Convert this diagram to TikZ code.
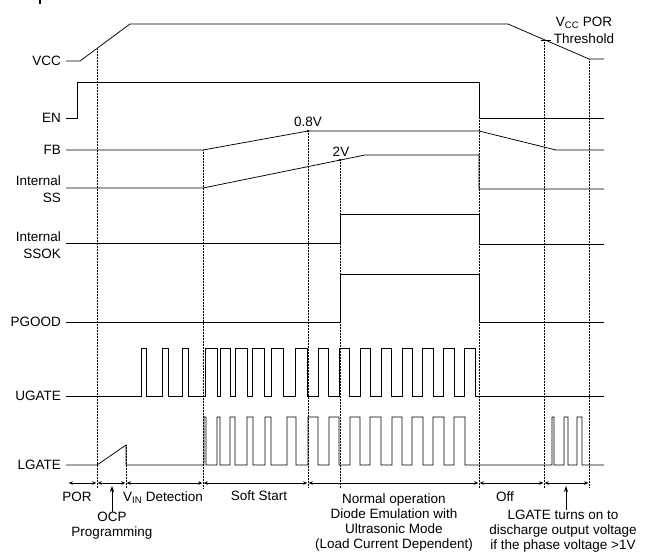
\documentclass[tikz,border=0pt]{standalone}
\usepackage{fontspec}
\setmainfont{Liberation Sans}
\usetikzlibrary{arrows.meta}

\tikzset{
  wave/.style={line width=0.75pt},
  guide/.style={densely dotted, line width=0.5pt},
  span/.style={{Stealth[length=4pt,width=3.5pt]}-{Stealth[length=4pt,width=3.5pt]}, line width=0.5pt, shorten <=0.8pt, shorten >=0.8pt},
  sig/.style={anchor=east, align=right, inner sep=0pt, font=\fontsize{13.5}{17}\selectfont},
  note/.style={align=center, inner sep=0pt, font=\fontsize{13.5}{15}\selectfont},
  mark/.style={}
}

\begin{document}
\begin{tikzpicture}[x=1pt,y=-1pt]
\useasboundingbox (0,0) rectangle (645,557);
\draw [line width = 1.2pt] (40,0) -- (40,4);

\node[sig] (vcc) at (61,61) {VCC};
\node[sig] (en) at (61,118) {EN};
\node[sig] (fb) at (61,150) {FB};
\node[sig] (ss) at (61,189) {Internal\\SS};
\node[sig] (ssok) at (61,245) {Internal\\SSOK};
\node[sig] (pgood) at (61,322) {PGOOD};
\node[sig] (ugate) at (61,396) {UGATE};
\node[sig] (lgate) at (61,465) {LGATE};

\draw [wave] (66,61) -- (80,61) -- (130,24) -- (508,24) -- (589,59) -- (604,59);
\draw [wave] (66,118) -- (77,118) -- (77,82) -- (479,82) -- (479,118) -- (604,118);
\draw [wave] (66,150) -- (203,150) -- (308,131) -- (479,131) -- (556,150) -- (604,150);
\draw [wave] (66,188) -- (203,188) -- (365,155) -- (479,155) -- (479,189) -- (604,189);
\draw [wave] (66,243) -- (340,243) -- (340,214) -- (479,214) -- (479,244) -- (604,244);
\draw [wave] (66,322) -- (340,322) -- (340,274) -- (479,274) -- (479,322) -- (604,322);
\draw [wave] (66,396) foreach \a/\b in {141/146,162/168,182/188,205/217,220/230,235/247,252/264,271/283,295/307,318/328,339/349,360/370,381/391,402/412,422/433,443/454,464/475} { -- (\a,396) -- (\a,348) -- (\b,348) -- (\b,396) } -- (604,396);
\draw [wave] (66,465) -- (97,465) -- (126,445) -- (126,465) foreach \a/\b in {204/206,217/220,230/235,247/253,265/271,287/296,308/318,329/339,350/360,370/381,392/402,412/423,433/444,454/465,552/554,564/568,577/582} { -- (\a,465) -- (\a,417) -- (\b,417) -- (\b,465) } -- (604,465);

\fill (308,131) circle (1.3);
\fill (340,160) circle (1.3);
\draw [wave] (541,40) -- (551,40);
\node[note] (v08) at (308,122) {0.8V};
\node[note] (v2) at (341,152) {2V};
\node[note, font=\fontsize{13.5}{17}\selectfont] (por) at (584,30.5) {V\textsubscript{CC} POR\\Threshold};

\draw [guide] (97,49) -- (97,488);
\draw [guide] (126,445) -- (126,488);
\draw [guide] (203,150) -- (203,488);
\draw [guide] (308,131) -- (308,488);
\draw [guide] (340,160) -- (340,488);
\draw [guide] (479,118) -- (479,488);
\draw [guide] (544,40) -- (544,488);
\draw [guide] (589,59) -- (589,488);

\coordinate (t0) at (68,483);
\coordinate (t1) at (97,483);
\coordinate (t2) at (126,483);
\coordinate (t3) at (203,483);
\coordinate (t4) at (308,483);
\coordinate (t5) at (479,483);
\coordinate (t6) at (544,483);
\coordinate (t7) at (589,483);
\foreach \p/\q in {t0/t1,t1/t2,t2/t3,t3/t4,t4/t5,t5/t6,t6/t7}
  \draw [span] (\p) -- (\q);

\node[note] (porlbl) at (77,497) {POR};
\node[note] (ocp) at (112,526) {OCP\\Programming};
\node[note] (vin) at (163,498) {V\textsubscript{IN} Detection};
\node[note] (soft) at (259,496) {Soft Start};
\node[note] (normal) at (394,523) {Normal operation\\Diode Emulation with\\Ultrasonic Mode\\(Load Current Dependent)};
\node[note] (off) at (505,497) {Off};
\node[note] (dis) at (563,531) {LGATE turns on to\\discharge output voltage\\if the phase voltage >1V};
\coordinate (ocptip) at (112,486);
\coordinate (distip) at (566,486);
\draw [-{Stealth[length=6pt,width=4pt]}, line width=0.6pt] (ocp.north -| ocptip) -- (ocptip);
\draw [-{Stealth[length=6pt,width=4pt]}, line width=0.6pt] (dis.north -| distip) -- (distip);
\end{tikzpicture}
\end{document}
